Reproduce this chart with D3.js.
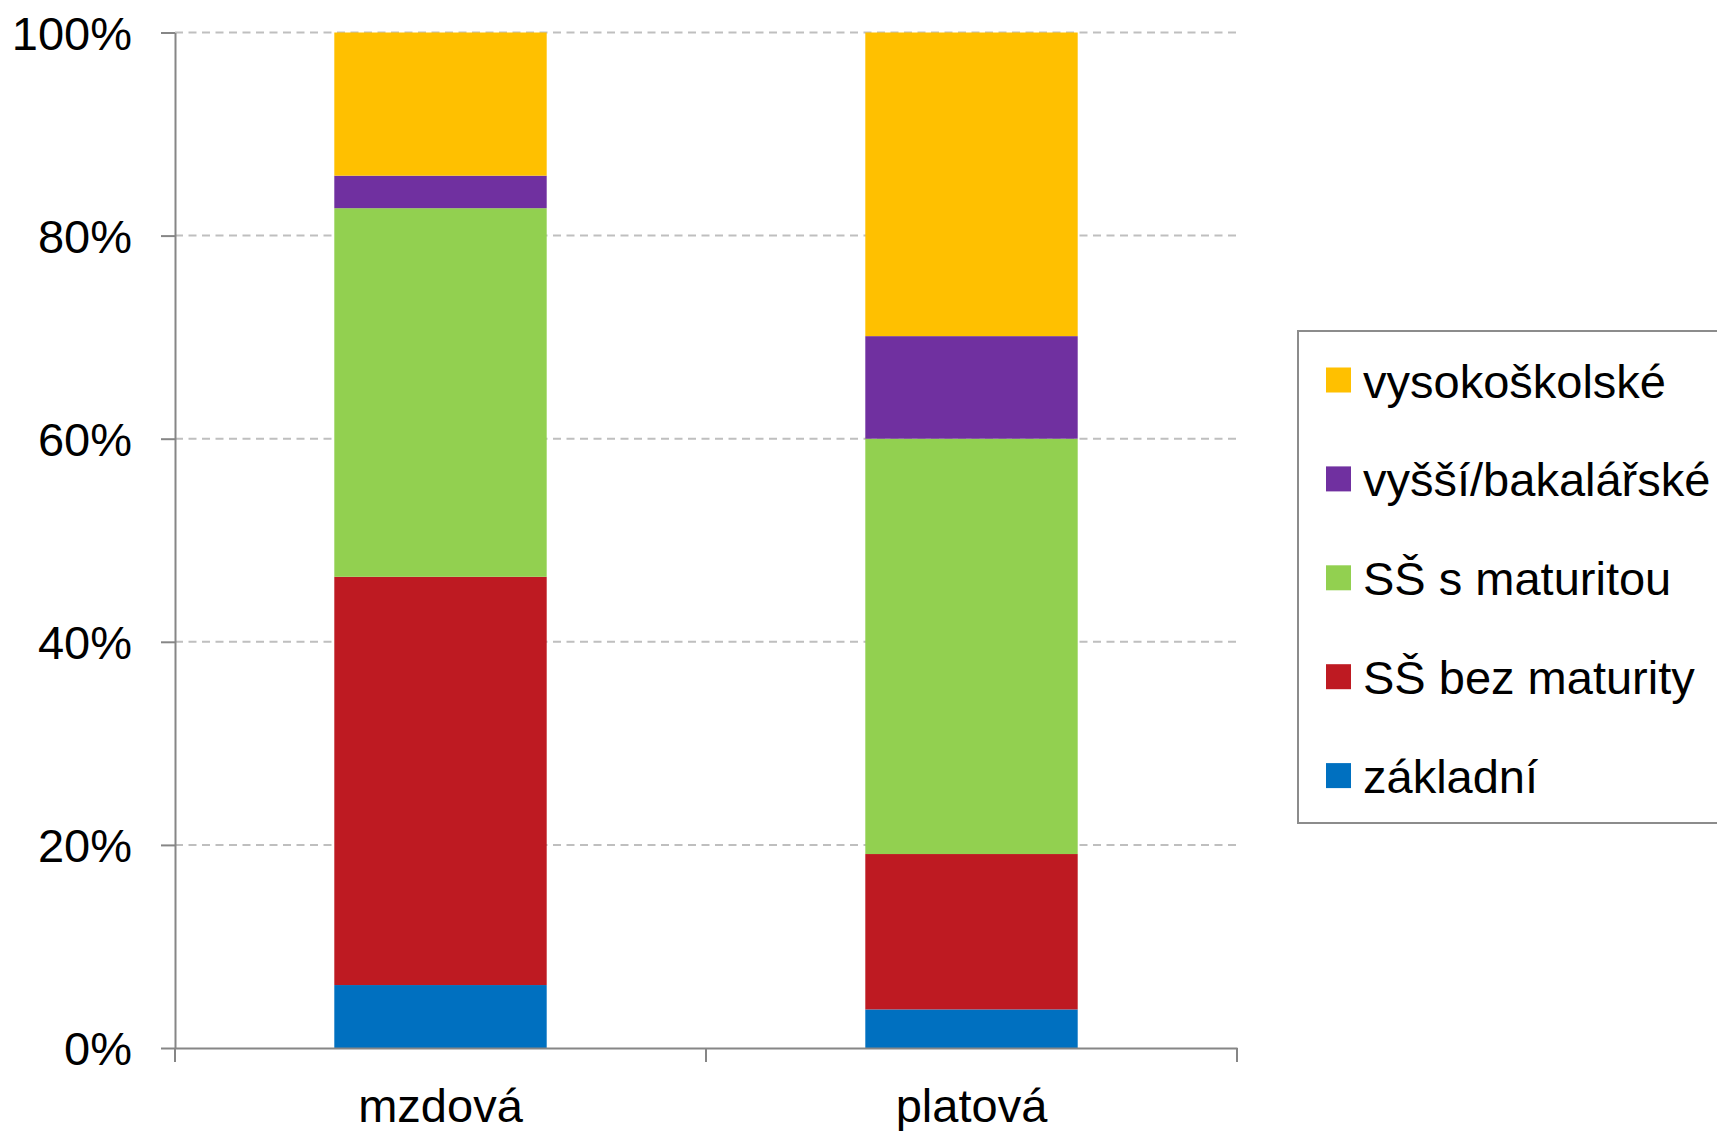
<!DOCTYPE html>
<html>
<head>
    <meta charset="utf-8"/>
    <title>Vzdělání – mzdová / platová sféra</title>
    <style>
        body, html {
            margin: 0;
            background: #ffffff;
            overflow: hidden;
        }
        svg {
            display: block;
        }
        svg text {
            font-family: 'Liberation Sans', Arial, Helvetica, sans-serif;
        }
        .grid line {
            stroke: #bfbfbf;
            stroke-width: 2px;
            stroke-dasharray: 8 5.5;
        }
        .axis path, .axis line {
            stroke: #868686;
            stroke-width: 2px;
        }
        .axis text {
            fill: #000;
            font-size: 47px;
        }
        .legend text {
            font-size: 47px;
            fill: #000;
        }
    </style>
    <script src="https://cdnjs.cloudflare.com/ajax/libs/d3/7.8.5/d3.min.js"></script>
</head>
<body>
<svg id="chart" width="1717" height="1131"></svg>
<script>

// categories on the x axis
const categories = ['mzdová', 'platová'];

// series, bottom to top of the stack
const seriesNames = ['základní', 'SŠ bez maturity', 'SŠ s maturitou', 'vyšší/bakalářské', 'vysokoškolské'];
const seriesColors = ['#0070C0', '#BE1A22', '#92D050', '#7030A0', '#FFC000'];

// share in % per category, in the order of seriesNames
const mzdova = [6.2, 40.2, 36.3, 3.2, 14.1];
const platova = [3.8, 15.3, 40.9, 10.1, 29.9];

const yTicks = [0, 20, 40, 60, 80, 100];

const svg = d3.select('#chart');

const plot = { left: 175, right: 1237, top: 32.5, bottom: 1048 };

const x = d3.scaleBand()
    .domain(categories)
    .range([plot.left, plot.right])
    .paddingInner(0.6)
    .paddingOuter(0.3);

// band scale without padding only for the tick marks between categories
const xOuter = d3.scaleBand().domain(categories).range([plot.left, plot.right]);

const y = d3.scaleLinear().domain([0, 100]).range([plot.bottom, plot.top]);

const rows = categories.map((c, i) => {
    const vals = [mzdova, platova][i];
    const row = { cat: c };
    seriesNames.forEach((s, j) => row[s] = vals[j]);
    return row;
});

const stacked = d3.stack().keys(seriesNames)(rows);

// gridlines
svg.append('g')
    .attr('class', 'grid')
    .selectAll('line')
    .data(yTicks.filter(t => t > 0))
    .enter().append('line')
    .attr('x1', plot.left)
    .attr('x2', plot.right)
    .attr('y1', d => y(d))
    .attr('y2', d => y(d));

// bars
svg.append('g')
    .selectAll('g')
    .data(stacked)
    .enter().append('g')
    .attr('fill', (d, i) => seriesColors[i])
    .selectAll('rect')
    .data(d => d)
    .enter().append('rect')
    .attr('x', d => x(d.data.cat))
    .attr('width', x.bandwidth())
    .attr('y', d => y(d[1]))
    .attr('height', d => y(d[0]) - y(d[1]));

// y axis
const yAxis = svg.append('g')
    .attr('class', 'axis')
    .attr('transform', `translate(${plot.left},0)`)
    .call(d3.axisLeft(y).tickValues(yTicks).tickFormat(d => d + '%').tickSizeInner(14).tickSizeOuter(0).tickPadding(29));
yAxis.attr('font-family', null);
yAxis.selectAll('text').attr('dy', '0.36em');

// x axis
const xAxis = svg.append('g')
    .attr('class', 'axis')
    .attr('transform', `translate(0,${plot.bottom})`)
    .call(d3.axisBottom(x).tickSize(0).tickPadding(74));
xAxis.attr('font-family', null);
xAxis.selectAll('text').attr('dy', '0');

xAxis.selectAll('.sep')
    .data([plot.left, ...categories.map(c => xOuter(c) + xOuter.bandwidth())])
    .enter().append('line')
    .attr('class', 'sep')
    .attr('x1', d => d).attr('x2', d => d)
    .attr('y1', 0).attr('y2', 14);

// legend
const legend = svg.append('g').attr('class', 'legend');

legend.append('rect')
    .attr('x', 1298)
    .attr('y', 331)
    .attr('width', 500)
    .attr('height', 492)
    .attr('fill', '#fff')
    .attr('stroke', '#8c8c8c')
    .attr('stroke-width', 2);

const legendOrder = seriesNames.slice().reverse();
const item = legend.selectAll('.item')
    .data(legendOrder)
    .enter().append('g')
    .attr('class', 'item')
    .attr('transform', (d, i) => `translate(1326,${380 + i * 98.9})`);

item.append('rect')
    .attr('x', 0)
    .attr('y', -12.5)
    .attr('width', 25)
    .attr('height', 25)
    .attr('fill', d => seriesColors[seriesNames.indexOf(d)]);

item.append('text')
    .attr('x', 37)
    .attr('y', 17.5)
    .text(d => d);

</script>
</body>
</html>
